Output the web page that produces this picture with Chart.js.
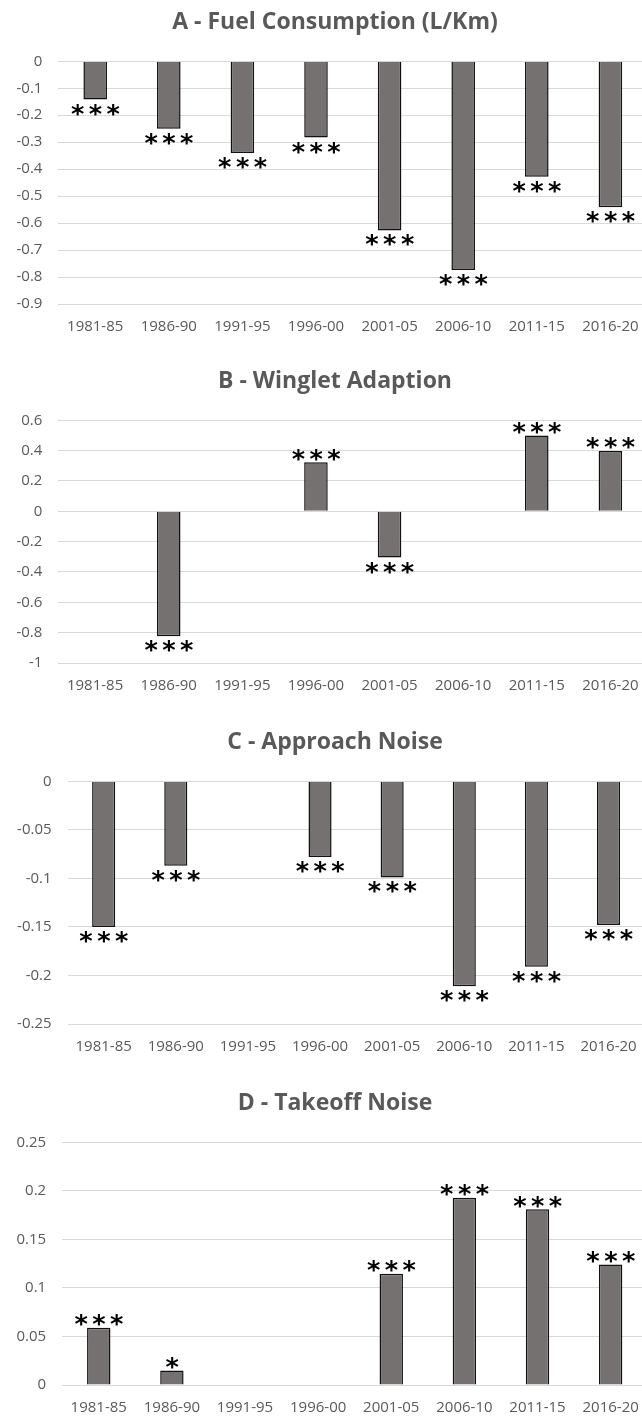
<!DOCTYPE html>
<html>
<head>
<meta charset="utf-8">
<script src="https://cdn.jsdelivr.net/npm/chart.js@4.4.1/dist/chart.umd.min.js"></script>
<style>
  html, body { margin: 0; padding: 0; background: #fff; overflow: hidden; width: 642px; height: 1419px; }
  .panel { position: absolute; left: 0; width: 670px; height: 336px; }
</style>
</head>
<body>
<div class="panel" style="top:0px"><canvas id="chartA" width="670" height="336"></canvas></div>
<div class="panel" style="top:359px"><canvas id="chartB" width="670" height="336"></canvas></div>
<div class="panel" style="top:720px"><canvas id="chartC" width="670" height="336"></canvas></div>
<div class="panel" style="top:1081px"><canvas id="chartD" width="670" height="336"></canvas></div>
<script>
const periods = ['1981-85', '1986-90', '1991-95', '1996-00', '2001-05', '2006-10', '2011-15', '2016-20'];

const fuelValues = [-0.142, -0.25, -0.34, -0.283, -0.627, -0.774, -0.428, -0.541];
const fuelStars = ['***', '***', '***', '***', '***', '***', '***', '***'];
const fuelAxis = [-0.9, 0, 0.1];

const wingletValues = [null, -0.824, null, 0.323, -0.305, null, 0.499, 0.398];
const wingletStars = [null, '***', null, '***', '***', null, '***', '***'];
const wingletAxis = [-1, 0.6, 0.2];

const approachValues = [-0.150, -0.087, null, -0.078, -0.099, -0.211, -0.191, -0.148];
const approachStars = ['***', '***', null, '***', '***', '***', '***', '***'];
const approachAxis = [-0.25, 0, 0.05];

const takeoffValues = [0.059, 0.015, null, null, 0.1145, 0.193, 0.181, 0.124];
const takeoffStars = ['***', '*', null, null, '***', '***', '***', '***'];
const takeoffAxis = [0, 0.25, 0.05];

const textGrey = '#595959';

// draws the significance stars just past the end of each bar
const starsPlugin = {
    id: 'stars',
    afterDatasetsDraw(chart) {
        const stars = chart.options.plugins.stars.labels;
        const ctx = chart.ctx;
        ctx.save();
        ctx.font = 'bold 100px "DejaVu Sans"';
        let m = ctx.measureText('*');
        const size = 100 * 12.5 / (m.actualBoundingBoxLeft + m.actualBoundingBoxRight);
        ctx.font = 'bold ' + size + 'px "DejaVu Sans"';
        m = ctx.measureText('*');
        const shift = (m.actualBoundingBoxAscent - m.actualBoundingBoxDescent) / 2;
        const inkMid = (m.actualBoundingBoxRight - m.actualBoundingBoxLeft) / 2;
        ctx.fillStyle = '#000';
        ctx.textAlign = 'left';
        ctx.textBaseline = 'alphabetic';
        const meta = chart.getDatasetMeta(0);
        meta.data.forEach((bar, i) => {
            const s = stars[i];
            const v = chart.data.datasets[0].data[i];
            if (!s || v === null) return;
            const cy = v < 0 ? bar.y + 10 : bar.y - 7.5;
            for (let k = 0; k < s.length; k++) {
                const cx = bar.x + (k - (s.length - 1) / 2) * 17.8;
                ctx.fillText('*', cx - inkMid, cy + shift);
            }
        });
        ctx.restore();
    }
};

function makeChart(id, title, values, stars, axis, axisWidth, rightPad) {
    const ctx = document.getElementById(id).getContext('2d');
    return new Chart(ctx, {
        type: 'bar',
        data: {
            labels: periods,
            datasets: [{
                data: values,
                backgroundColor: '#767171',
                borderColor: '#111111',
                borderWidth: 1.5,
                categoryPercentage: 1,
                barPercentage: 0.32
            }]
        },
        options: {
            responsive: false,
            animation: false,
            layout: { padding: 0 },
            scales: {
                x: {
                    grid: { display: false, drawTicks: false },
                    border: { display: false },
                    ticks: {
                        color: textGrey,
                        padding: 14,
                        maxRotation: 0,
                        autoSkip: false,
                        font: { family: '"Open Sans"', size: 15 }
                    },
                    afterFit: s => { s.height = 32; }
                },
                y: {
                    min: axis[0],
                    max: axis[1],
                    grid: { color: '#d9d9d9', lineWidth: 1, drawTicks: false },
                    border: { display: false },
                    ticks: {
                        stepSize: axis[2],
                        color: textGrey,
                        padding: 16,
                        font: { family: '"Open Sans"', size: 15 },
                        callback: v => String(+v.toFixed(2))
                    },
                    afterFit: s => { s.width = axisWidth; }
                },
                pad: {
                    position: 'right',
                    grid: { display: false, drawTicks: false },
                    border: { display: false },
                    ticks: { display: false },
                    afterFit: s => { s.width = rightPad; }
                }
            },
            plugins: {
                legend: { display: false },
                tooltip: { enabled: false },
                title: {
                    display: true,
                    text: title,
                    color: textGrey,
                    font: { family: '"Open Sans"', size: 23, weight: 'bold', lineHeight: 1.2 },
                    padding: { top: 9, bottom: 24.7 }
                },
                stars: { labels: stars }
            }
        },
        plugins: [starsPlugin]
    });
}

makeChart('chartA', 'A - Fuel Consumption (L/Km)', fuelValues, fuelStars, fuelAxis, 58.4, 22.8);
makeChart('chartB', 'B - Winglet Adaption', wingletValues, wingletStars, wingletAxis, 58.3, 22.8);
makeChart('chartC', 'C - Approach Noise', approachValues, approachStars, approachAxis, 67.6, 25.4);
makeChart('chartD', 'D - Takeoff Noise', takeoffValues, takeoffStars, takeoffAxis, 62.2, 22.8);
</script>
</body>
</html>
